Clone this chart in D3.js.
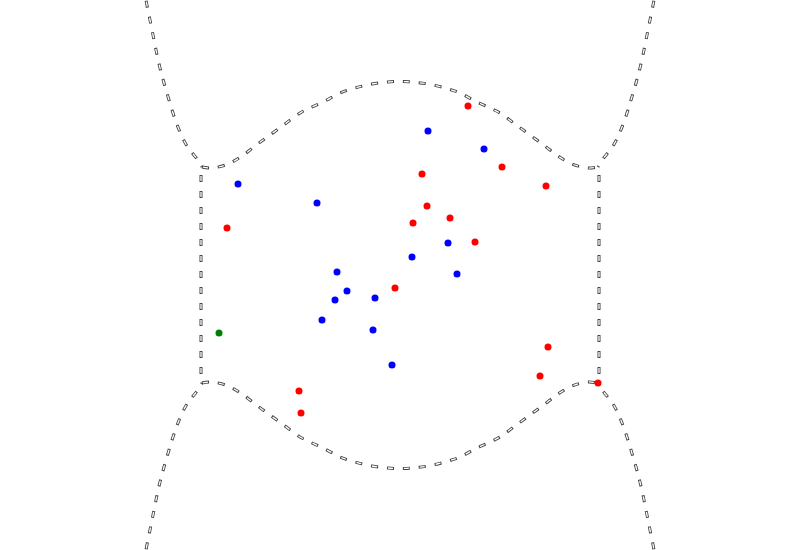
<!DOCTYPE html>
<html>
<head>
<meta charset="utf-8">
<script src="https://cdn.jsdelivr.net/npm/d3@7"></script>
<style>
  html, body { margin: 0; padding: 0; background: #fff; }
  svg { display: block; }
</style>
</head>
<body>
<svg id="chart" width="800" height="550"></svg>
<script>
// ---- data (in chart units) ----
const blueX  = [-1.62, -0.83, 0.28, 0.84, -0.63, -0.53, -0.65, -0.25, 0.12, 0.48, 0.57, -0.78, -0.27, -0.08];
const blueY  = [ 0.91,  0.72, 1.44, 1.26,  0.03, -0.16, -0.25, -0.23, 0.18, 0.32, 0.01, -0.45, -0.55, -0.90];
const redX   = [0.68, 1.02, 1.46, 0.22, 0.27, 0.13, 0.50, 0.75, -1.73, -0.05, 1.48, 1.40, 1.98, -1.01, -0.99];
const redY   = [1.69, 1.08, 0.89, 1.01, 0.69, 0.52, 0.57, 0.33, 0.47, -0.13, -0.72, -1.01, -1.08, -1.16, -1.38];
const greenX = [-1.81];
const greenY = [-0.58];

// boundary curves
const topCurveX = [-1.98, -1.88, -1.72, -1.58, -1.45, -1.30, -1.15, -1.00, -0.90, -0.75, -0.60, -0.45, -0.28, -0.12, 0.00,
                    0.12, 0.28, 0.45, 0.60, 0.75, 0.90, 1.00, 1.15, 1.30, 1.45, 1.58, 1.72, 1.88, 1.98];
const topCurveY = [ 1.08,  1.07,  1.11,  1.19,  1.29,  1.40,  1.51,  1.62,  1.67,  1.74,  1.82,  1.87,  1.91,  1.93, 1.935,
                    1.93, 1.91, 1.87, 1.82, 1.74, 1.67, 1.62, 1.51, 1.40, 1.29, 1.19, 1.11, 1.07, 1.08];
const botCurveX = topCurveX;
const botCurveY = [-1.08, -1.07, -1.11, -1.19, -1.29, -1.40, -1.51, -1.62, -1.67, -1.74, -1.82, -1.87, -1.91, -1.93, -1.935,
                   -1.93, -1.91, -1.87, -1.82, -1.74, -1.67, -1.62, -1.51, -1.40, -1.29, -1.19, -1.11, -1.07, -1.08];
const outerLeftTopX  = [-2.56, -2.54, -2.50, -2.47, -2.44, -2.40, -2.36, -2.31, -2.26, -2.20, -2.13, -2.03, -1.98];
const outerLeftTopY  = [ 2.90,  2.75,  2.55,  2.40,  2.25,  2.07,  1.92,  1.75,  1.59,  1.43,  1.29,  1.16,  1.08];
const outerRightTopX = [ 2.56,  2.54,  2.50,  2.47,  2.44,  2.40,  2.36,  2.31,  2.26,  2.20,  2.13,  2.03,  1.98];
const outerRightTopY = outerLeftTopY;
const outerLeftBotX  = outerLeftTopX;
const outerLeftBotY  = [-2.90, -2.75, -2.55, -2.40, -2.25, -2.07, -1.92, -1.75, -1.59, -1.43, -1.29, -1.16, -1.08];
const outerRightBotX = outerRightTopX;
const outerRightBotY = outerLeftBotY;
const leftEdgeX  = [-1.99, -1.99];
const leftEdgeY  = [ 1.00, -1.06];
const rightEdgeX = [ 1.99,  1.99];
const rightEdgeY = [ 1.00, -1.06];

// ---- drawing ----
const W = 800, H = 550;
const svg = d3.select("#chart");
svg.append("rect").attr("width", W).attr("height", H).attr("fill", "#fff");

const x = d3.scaleLinear().domain([-4, 4]).range([0, W]);
const y = d3.scaleLinear().domain([-2.75, 2.75]).range([H, 0]);

const curves = [
  [outerLeftTopX, outerLeftTopY],
  [outerRightTopX, outerRightTopY],
  [outerLeftBotX, outerLeftBotY],
  [outerRightBotX, outerRightBotY],
  [topCurveX, topCurveY],
  [botCurveX, botCurveY],
  [leftEdgeX, leftEdgeY],
  [rightEdgeX, rightEdgeY]
];

const line = d3.line()
  .x(d => x(d[0]))
  .y(d => y(d[1]))
  .curve(d3.curveCatmullRom.alpha(0.5));

const gLines = svg.append("g");
curves.forEach(([xs, ys]) => {
  const pts = xs.map((v, i) => [v, ys[i]]);
  gLines.append("path")
    .attr("d", line(pts))
    .attr("fill", "none")
    .attr("stroke", "#444")
    .attr("stroke-width", 3)
    .attr("stroke-dasharray", "7 9");
  gLines.append("path")
    .attr("d", line(pts))
    .attr("fill", "none")
    .attr("stroke", "#fff")
    .attr("stroke-width", 1.3)
    .attr("stroke-dasharray", "5 11")
    .attr("stroke-dashoffset", -1);
});

const groups = [
  { xs: blueX, ys: blueY, color: "blue" },
  { xs: redX, ys: redY, color: "red" },
  { xs: greenX, ys: greenY, color: "green" }
];
const gPts = svg.append("g");
groups.forEach(g => {
  gPts.selectAll(null)
    .data(g.xs.map((v, i) => [v, g.ys[i]]))
    .enter().append("circle")
    .attr("cx", d => x(d[0]))
    .attr("cy", d => y(d[1]))
    .attr("r", 3.5)
    .attr("fill", g.color);
});
</script>
</body>
</html>
